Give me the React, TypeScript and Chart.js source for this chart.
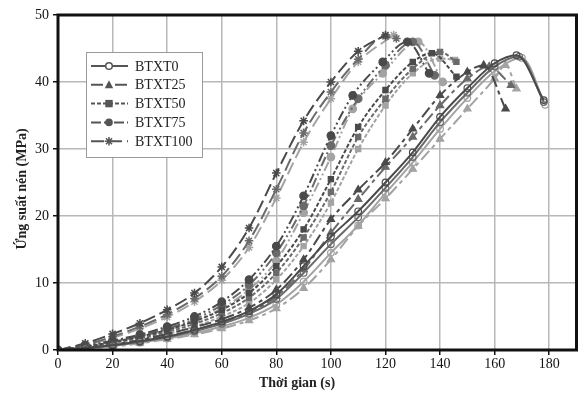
import React, { useEffect, useRef } from 'react';
import { Chart, registerables } from 'chart.js';

Chart.register(...registerables);

// ---- data (time in s, stress in MPa) ----
const SERIES_NAMES = ['BTXT0', 'BTXT25', 'BTXT50', 'BTXT75', 'BTXT100'];
const X_TICKS = [0, 20, 40, 60, 80, 100, 120, 140, 160, 180];
const Y_TICKS = [0, 10, 20, 30, 40, 50];

const T10 = [0, 10, 20, 30, 40, 50, 60, 70, 80, 90, 100, 110, 120, 130, 140, 150, 160];

const BTXT0_A_T = [...T10, 168, 178];
const BTXT0_A_S = [0, 0.3, 0.7, 1.3, 2, 3, 4.2, 5.8, 8.3, 12.5, 16.9, 20.7, 25, 29.5, 34.8, 39.1, 42.8, 44, 37.3];
const BTXT0_B_T = [...T10, 169, 178];
const BTXT0_B_S = [0, 0.3, 0.7, 1.2, 1.9, 2.8, 3.9, 5.4, 7.6, 11.5, 15.8, 19.8, 24.2, 28.8, 34, 38.4, 42.3, 43.8, 37];
const BTXT0_C_T = [...T10, 170, 178.5];
const BTXT0_C_S = [0, 0.2, 0.6, 1.1, 1.7, 2.5, 3.5, 4.8, 6.8, 10.2, 14.5, 18.6, 23.4, 28, 33, 37.6, 41.6, 43.6, 36.6];

const BTXT25_A_T = [0, 10, 20, 30, 40, 50, 60, 70, 80, 90, 100, 110, 120, 130, 140, 150, 156, 164];
const BTXT25_A_S = [0, 0.3, 0.8, 1.5, 2.4, 3.4, 4.6, 6.3, 9, 13.5, 19.5, 23.9, 28, 33, 38, 41.5, 42.5, 36];
const BTXT25_B_T = [0, 10, 20, 30, 40, 50, 60, 70, 80, 90, 100, 110, 120, 130, 140, 150, 158, 166];
const BTXT25_B_S = [0, 0.3, 0.7, 1.3, 2.1, 3, 4.1, 5.6, 8, 12, 17.5, 22.5, 27.3, 31.8, 36.5, 40.5, 42.3, 39.5];
const BTXT25_C_T = [...T10, 164, 168];
const BTXT25_C_S = [0, 0.2, 0.5, 1, 1.6, 2.3, 3.2, 4.4, 6.2, 9.2, 13.5, 18.5, 22.6, 27, 31.5, 36, 40.5, 42.5, 39];

const BTXT50_A_T = [0, 10, 20, 30, 40, 50, 60, 70, 80, 90, 100, 110, 120, 130, 137, 146];
const BTXT50_A_S = [0, 0.5, 1.2, 2, 3, 4.3, 6, 8.5, 12.5, 18, 25.5, 33.3, 38.8, 43, 44.3, 40.8];
const BTXT50_B_T = [0, 10, 20, 30, 40, 50, 60, 70, 80, 90, 100, 110, 120, 130, 140, 146];
const BTXT50_B_S = [0, 0.4, 1.1, 1.8, 2.7, 3.9, 5.5, 7.8, 11.5, 16.8, 23.6, 31.8, 37.5, 42, 44.5, 43];
const BTXT50_C_T = [0, 10, 20, 30, 40, 50, 60, 70, 80, 90, 100, 110, 120, 130, 140, 145.5];
const BTXT50_C_S = [0, 0.4, 1, 1.6, 2.4, 3.5, 5, 7, 10.5, 15.5, 22, 30, 36.5, 41.3, 43.5, 43.3];

const BTXT75_A_T = [0, 10, 20, 30, 40, 50, 60, 70, 80, 90, 100, 108, 119, 128, 136];
const BTXT75_A_S = [0, 0.6, 1.4, 2.3, 3.5, 5, 7.2, 10.5, 15.5, 23, 32, 38, 43, 46, 41.3];
const BTXT75_B_T = [0, 10, 20, 30, 40, 50, 60, 70, 80, 90, 100, 110, 120, 130, 138];
const BTXT75_B_S = [0, 0.5, 1.3, 2.1, 3.2, 4.6, 6.7, 9.7, 14.5, 21.5, 30.5, 37.5, 42.5, 46, 41];
const BTXT75_C_T = [0, 10, 20, 30, 40, 50, 60, 70, 80, 90, 100, 108, 119, 132, 141];
const BTXT75_C_S = [0, 0.5, 1.2, 2, 3, 4.3, 6.2, 9, 13.3, 20.5, 28.8, 36, 41.3, 46, 40];

const BTXT100_A_T = [0, 10, 20, 30, 40, 50, 60, 70, 80, 90, 100, 110, 120];
const BTXT100_A_S = [0, 1, 2.4, 4, 6, 8.5, 12.4, 18.2, 26.4, 34.2, 40, 44.6, 47];
const BTXT100_B_T = [0, 10, 20, 30, 40, 50, 60, 70, 80, 90, 100, 110, 120, 124];
const BTXT100_B_S = [0, 0.8, 2, 3.5, 5.3, 7.7, 11, 16.3, 24, 32.4, 38.5, 43.4, 46.8, 46.5];
const BTXT100_C_T = [0, 10, 20, 30, 40, 50, 60, 70, 80, 90, 100, 110, 123];
const BTXT100_C_S = [0, 0.7, 1.8, 3.2, 4.9, 7.2, 10.4, 15.3, 22.7, 31, 37.5, 43, 47];

// ---- styles ----
const SHADES = ['#4a4a4a', '#6a6a6a', '#a3a3a3'];
const GROUP_STYLE = [
  { dash: [] as number[], point: 'circle', open: true, radius: 3.3 },
  { dash: [12, 4, 4, 4], point: 'triangle', open: false, radius: 4.2 },
  { dash: [4, 2], point: 'rect', open: false, radius: 3.7 },
  { dash: [10, 3, 2, 3, 2, 3], point: 'circle', open: false, radius: 3.8 },
  { dash: [13, 5], point: 'star', open: false, radius: 4.3 },
];

const GROUPS = [
  [[BTXT0_A_T, BTXT0_A_S], [BTXT0_B_T, BTXT0_B_S], [BTXT0_C_T, BTXT0_C_S]],
  [[BTXT25_A_T, BTXT25_A_S], [BTXT25_B_T, BTXT25_B_S], [BTXT25_C_T, BTXT25_C_S]],
  [[BTXT50_A_T, BTXT50_A_S], [BTXT50_B_T, BTXT50_B_S], [BTXT50_C_T, BTXT50_C_S]],
  [[BTXT75_A_T, BTXT75_A_S], [BTXT75_B_T, BTXT75_B_S], [BTXT75_C_T, BTXT75_C_S]],
  [[BTXT100_A_T, BTXT100_A_S], [BTXT100_B_T, BTXT100_B_S], [BTXT100_C_T, BTXT100_C_S]],
];

const SERIF = '"Liberation Serif", "Times New Roman", serif';

function drawMarker(ctx: CanvasRenderingContext2D, kind: number, x: number, y: number, color: string) {
  const st = GROUP_STYLE[kind];
  const r = st.radius;
  ctx.save();
  ctx.setLineDash([]);
  ctx.fillStyle = color;
  ctx.strokeStyle = color;
  ctx.lineWidth = 1.5;
  ctx.beginPath();
  if (st.point === 'circle') {
    ctx.arc(x, y, r, 0, Math.PI * 2);
    if (st.open) {
      ctx.fillStyle = '#fff';
      ctx.fill();
      ctx.stroke();
    } else ctx.fill();
  } else if (st.point === 'triangle') {
    ctx.moveTo(x, y - r * 1.1);
    ctx.lineTo(x + r, y + r * 0.8);
    ctx.lineTo(x - r, y + r * 0.8);
    ctx.closePath();
    ctx.fill();
  } else if (st.point === 'rect') {
    ctx.rect(x - r, y - r, r * 2, r * 2);
    ctx.fill();
  } else {
    ctx.moveTo(x - r, y); ctx.lineTo(x + r, y);
    ctx.moveTo(x, y - r); ctx.lineTo(x, y + r);
    ctx.moveTo(x - r * 0.7, y - r * 0.7); ctx.lineTo(x + r * 0.7, y + r * 0.7);
    ctx.moveTo(x - r * 0.7, y + r * 0.7); ctx.lineTo(x + r * 0.7, y - r * 0.7);
    ctx.stroke();
  }
  ctx.restore();
}

const decorPlugin = {
  id: 'decor',
  afterDraw(chart: any) {
    const { ctx, chartArea } = chart;
    const { left, top, right, bottom } = chartArea;
    ctx.save();
    // frame
    ctx.strokeStyle = '#111';
    ctx.lineWidth = 3;
    ctx.strokeRect(left, top, right - left, bottom - top);

    // legend
    const bx = 86, by = 52, bw = 116, bh = 105;
    ctx.fillStyle = '#fff';
    ctx.fillRect(bx, by, bw, bh);
    ctx.strokeStyle = '#9a9a9a';
    ctx.lineWidth = 1;
    ctx.strokeRect(bx + 0.5, by + 0.5, bw, bh);
    const legendColor = '#555';
    SERIES_NAMES.forEach((name, i) => {
      const y = 66 + i * 18.8;
      ctx.save();
      ctx.strokeStyle = legendColor;
      ctx.lineWidth = 2;
      ctx.setLineDash(GROUP_STYLE[i].dash);
      ctx.beginPath();
      ctx.moveTo(91, y);
      ctx.lineTo(128, y);
      ctx.stroke();
      ctx.restore();
      drawMarker(ctx, i, 109, y, legendColor);
      ctx.fillStyle = '#222';
      ctx.font = `14px ${SERIF}`;
      ctx.textBaseline = 'middle';
      ctx.textAlign = 'left';
      ctx.fillText(name, 135, y + 1);
    });

    // axis titles
    ctx.fillStyle = '#222';
    ctx.font = `bold 14px ${SERIF}`;
    ctx.textAlign = 'center';
    ctx.textBaseline = 'middle';
    ctx.fillText('Thời gian (s)', 297, 383);
    ctx.save();
    ctx.translate(22, 189);
    ctx.rotate(-Math.PI / 2);
    ctx.fillText('Ứng suất nén (MPa)', 0, 0);
    ctx.restore();
    ctx.restore();
  },
};

export default function App() {
  const ref = useRef<HTMLCanvasElement | null>(null);

  useEffect(() => {
    document.body.style.margin = '0';
    const datasets: any[] = [];
    GROUPS.forEach((group, gi) => {
      const st = GROUP_STYLE[gi];
      group.forEach(([ts, ss], ci) => {
        const color = SHADES[ci];
        datasets.push({
          label: `${SERIES_NAMES[gi]}-${ci + 1}`,
          data: ts.map((t, k) => ({ x: t, y: ss[k] })),
          borderColor: color,
          backgroundColor: st.open ? 'rgba(255,255,255,0)' : color,
          pointBackgroundColor: st.open ? 'rgba(255,255,255,0)' : color,
          pointBorderColor: color,
          pointStyle: st.point,
          pointRadius: st.radius,
          pointBorderWidth: st.point === 'star' ? 1.5 : 1.2,
          borderWidth: 2,
          borderDash: st.dash,
          cubicInterpolationMode: 'monotone',
          fill: false,
          showLine: true,
        });
      });
    });

    const chart = new Chart(ref.current as HTMLCanvasElement, {
      type: 'line',
      data: { datasets },
      plugins: [decorPlugin],
      options: {
        animation: false,
        responsive: false,
        layout: { autoPadding: false, padding: { top: 15, right: 1.5, left: 0, bottom: 0 } },
        plugins: { legend: { display: false }, tooltip: { enabled: false }, title: { display: false } },
        scales: {
          x: {
            type: 'linear',
            min: 0,
            max: 190,
            afterBuildTicks: (scale: any) => {
              scale.ticks = X_TICKS.map((v) => ({ value: v }));
            },
            afterFit: (scale: any) => {
              scale.height = 44;
              scale.paddingLeft = 0;
              scale.paddingRight = 0;
            },
            ticks: { color: '#111', font: { family: SERIF, size: 14 }, padding: 1, maxRotation: 0, autoSkip: false },
            grid: { color: '#b8b8b8', lineWidth: 1.5, tickLength: 5, tickColor: '#111', drawTicks: true },
            border: { display: false },
          },
          y: {
            type: 'linear',
            min: 0,
            max: 50,
            afterBuildTicks: (scale: any) => {
              scale.ticks = Y_TICKS.map((v) => ({ value: v }));
            },
            afterFit: (scale: any) => {
              scale.width = 58;
              scale.paddingTop = 0;
              scale.paddingBottom = 0;
            },
            ticks: { color: '#111', font: { family: SERIF, size: 14 }, padding: 4, autoSkip: false },
            grid: { color: '#b8b8b8', lineWidth: 1.5, tickLength: 5, tickColor: '#111', drawTicks: true },
            border: { display: false },
          },
        },
      },
    });
    return () => chart.destroy();
  }, []);

  return (
    <div style={{ position: 'absolute', left: 0, top: 0, width: 578, height: 394, background: '#fff' }}>
      <canvas ref={ref} width={578} height={394} style={{ display: 'block' }} />
    </div>
  );
}
